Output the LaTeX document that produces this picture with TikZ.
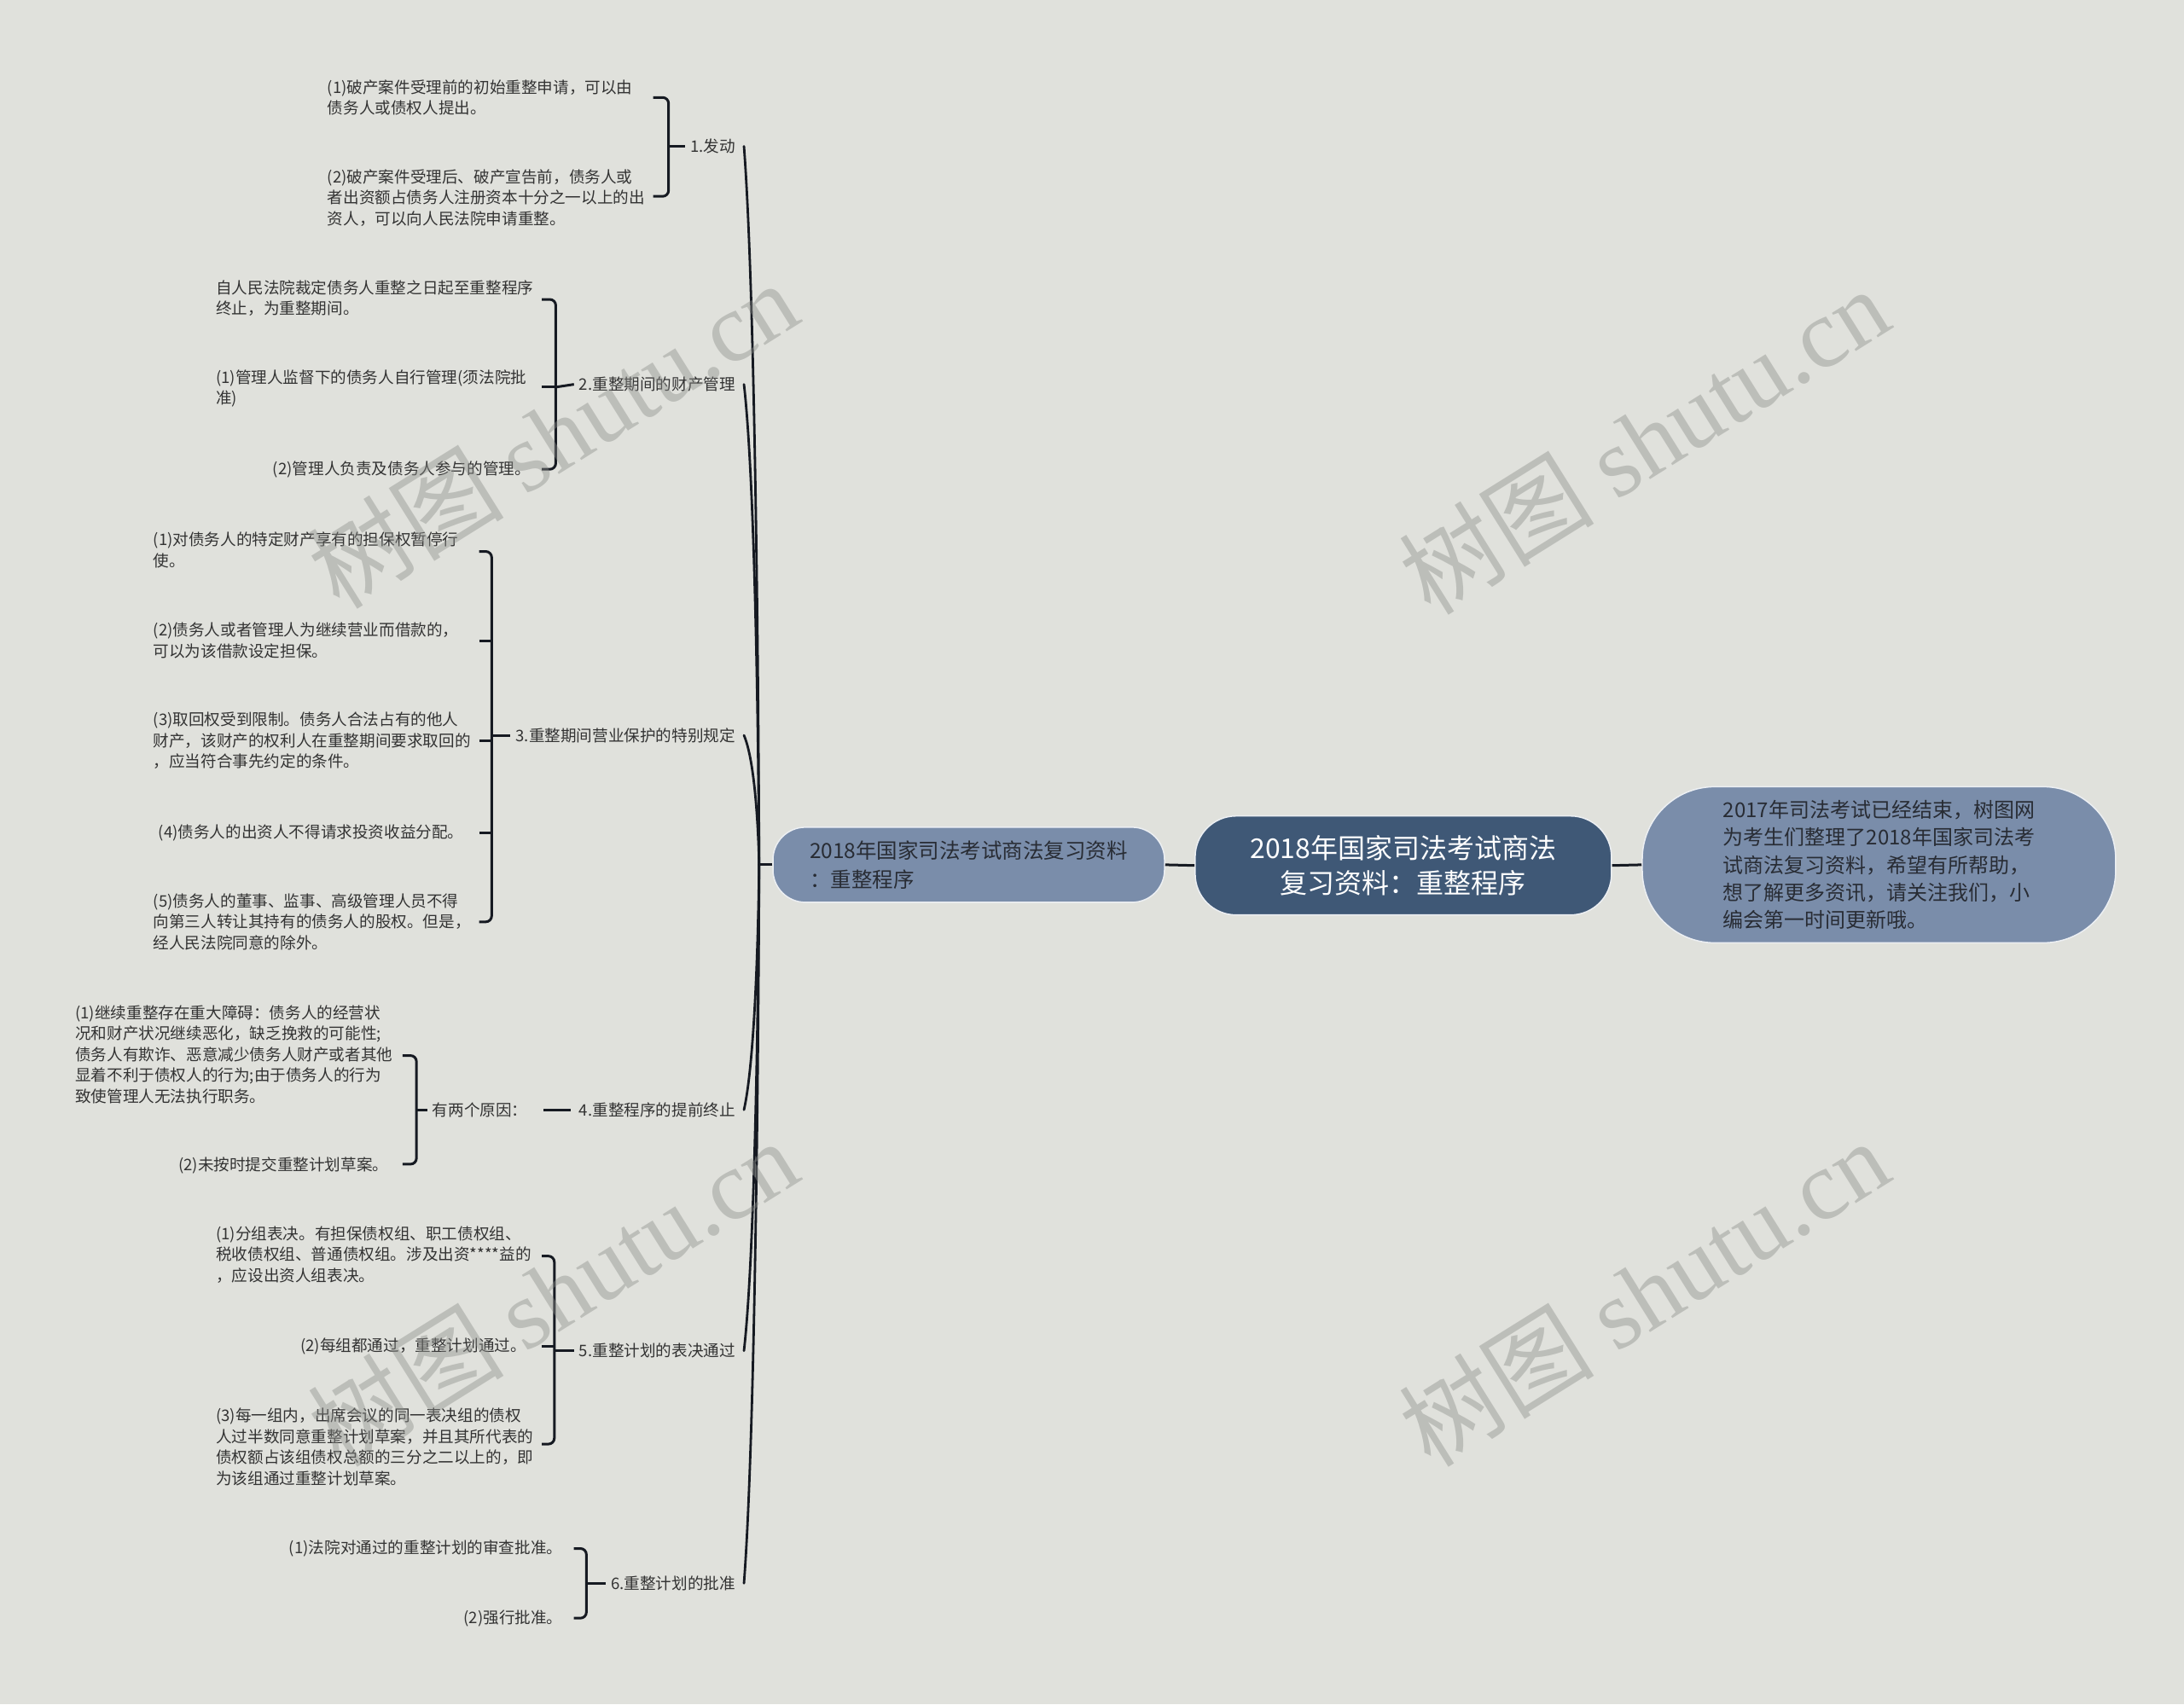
\documentclass[tikz,border=0pt]{standalone}
\usepackage{fontspec}
\setmainfont{Noto Sans CJK SC}
\newfontfamily\wmlatin{Liberation Serif}
\definecolor{bgc}{RGB}{224,225,220}
\definecolor{darkc}{RGB}{63,88,118}
\definecolor{lightc}{RGB}{122,141,170}
\definecolor{edgec}{RGB}{236,239,243}
\definecolor{lnc}{RGB}{22,26,34}
\definecolor{txtc}{RGB}{51,51,51}
\definecolor{ntxt}{RGB}{40,44,52}
\definecolor{wmc}{RGB}{140,142,138}
\begin{document}
\begin{tikzpicture}[x=1.6327pt,y=-1.6327pt,
  leaf/.style={font=\fontsize{18.6}{24.5}\selectfont, text=txtc, inner sep=0pt, align=left},
  lvl/.style={font=\fontsize{18.6}{24.5}\selectfont, text=txtc, inner sep=0pt},
  brk/.style={draw=lnc, line width=3pt, rounded corners=7pt},
  link/.style={draw=lnc, line width=3pt},
  branch/.style={draw=lnc, line width=2.8pt, line cap=round},
  rootbox/.style={fill=darkc, draw=edgec, line width=1.5pt, rounded corners=48pt, text=white,
    font=\fontsize{32}{41}\selectfont, align=center, minimum width=488pt, minimum height=116pt, inner sep=0pt},
  subbox/.style={fill=lightc, draw=edgec, line width=1.5pt, rounded corners=38pt, text=ntxt,
    font=\fontsize{24.5}{34}\selectfont, align=left, minimum width=459pt, minimum height=88pt, inner sep=0pt},
  notebox/.style={fill=lightc, draw=edgec, line width=1.5pt, rounded corners=85pt, text=ntxt,
    font=\fontsize{24}{32.2}\selectfont, align=left, minimum width=555pt, minimum height=183pt, inner sep=0pt},
  wm/.style={text=wmc, opacity=0.42, font=\fontsize{115}{115}\selectfont, inner sep=0pt, rotate=32}
]
\fill[bgc] (0,0) rectangle (1568,1224);
\useasboundingbox (0,0) rectangle (1568,1224);

% central nodes
\node[rootbox] (root) at (1007.5,621.5) {2018年国家司法考试商法\\复习资料：重整程序};
\node[subbox] (sub) at (695.5,621) {2018年国家司法考试商法复习资料\\：重整程序};
\node[notebox] (note) at (1349,621) {2017年司法考试已经结束，树图网\\为考生们整理了2018年国家司法考\\试商法复习资料，希望有所帮助，\\想了解更多资讯，请关注我们，小\\编会第一时间更新哦。};
\draw[link] (root.west) -- (sub.east);
\draw[link] (root.east) -- (note.west);
\coordinate (tr) at (545,621);
\draw[link] (sub.west) -- (tr);

% first level labels
\node[lvl, anchor=east] (g1) at (528,105) {1.发动};
\node[lvl, anchor=east] (g2) at (528,276) {2.重整期间的财产管理};
\node[lvl, anchor=east] (g3) at (528,528) {3.重整期间营业保护的特别规定};
\node[lvl, anchor=east] (g4) at (528,797) {4.重整程序的提前终止};
\node[lvl, anchor=east] (g5) at (528,970) {5.重整计划的表决通过};
\node[lvl, anchor=east] (g6) at (528,1137) {6.重整计划的批准};

\draw[branch] (tr) .. controls (tr) and (544,234) .. ([xshift=10pt]g1.east);
\draw[branch] (tr) .. controls (tr) and (544,362) .. ([xshift=10pt]g2.east);
\draw[branch] (tr) .. controls (tr) and (544,551) .. ([xshift=10pt]g3.east);
\draw[branch] (tr) .. controls (tr) and (544,753) .. ([xshift=10pt]g4.east);
\draw[branch] (tr) .. controls (tr) and (544,883) .. ([xshift=10pt]g5.east);
\draw[branch] (tr) .. controls (tr) and (544,1008) .. ([xshift=10pt]g6.east);

% group 1
\node[leaf, anchor=west] (c11) at (235,70) {(1)破产案件受理前的初始重整申请，可以由\\债务人或债权人提出。};
\node[leaf, anchor=west] (c12) at (235,142) {(2)破产案件受理后、破产宣告前，债务人或\\者出资额占债务人注册资本十分之一以上的出\\资人，可以向人民法院申请重整。};
\draw[brk] (469,70) -| (480,141) -- (469,141);
\draw[link] (480,105) -- ([xshift=-6pt]g1.west);

% group 2
\node[leaf, anchor=west] (c21) at (155,214) {自人民法院裁定债务人重整之日起至重整程序\\终止，为重整期间。};
\node[leaf, anchor=west] (c22) at (155,279) {(1)管理人监督下的债务人自行管理(须法院批\\准)};
\node[leaf, anchor=east] (c23) at (381,337) {(2)管理人负责及债务人参与的管理。};
\draw[brk] (389,215) -| (399,337) -- (389,337);
\draw[link] (389,278) -- (399,278);
\draw[link] (399,278) -- ([xshift=-6pt]g2.west);

% group 3
\node[leaf, anchor=west] (c31) at (110,395) {(1)对债务人的特定财产享有的担保权暂停行\\使。};
\node[leaf, anchor=west] (c32) at (110,460) {(2)债务人或者管理人为继续营业而借款的，\\可以为该借款设定担保。};
\node[leaf, anchor=west] (c33) at (110,532) {(3)取回权受到限制。债务人合法占有的他人\\财产，该财产的权利人在重整期间要求取回的\\，应当符合事先约定的条件。};
\node[leaf, anchor=east] (c34) at (333,598) {(4)债务人的出资人不得请求投资收益分配。};
\node[leaf, anchor=west] (c35) at (110,662) {(5)债务人的董事、监事、高级管理人员不得\\向第三人转让其持有的债务人的股权。但是，\\经人民法院同意的除外。};
\draw[brk] (344,396) -| (353,662) -- (344,662);
\draw[link] (344,460) -- (353,460);
\draw[link] (344,532) -- (353,532);
\draw[link] (344,598) -- (353,598);
\draw[link] (353,528) -- ([xshift=-6pt]g3.west);

% group 4
\node[lvl, anchor=east] (r4) at (379,797) {有两个原因：};
\draw[link] ([xshift=-10pt]g4.west) -- ([xshift=18pt]r4.east);
\node[leaf, anchor=west] (c41) at (54,757) {(1)继续重整存在重大障碍：债务人的经营状\\况和财产状况继续恶化，缺乏挽救的可能性;\\债务人有欺诈、恶意减少债务人财产或者其他\\显着不利于债权人的行为;由于债务人的行为\\致使管理人无法执行职务。};
\node[leaf, anchor=east] (c42) at (279,837) {(2)未按时提交重整计划草案。};
\draw[brk] (289,758) -| (299,836) -- (289,836);
\draw[link] (299,797) -- ([xshift=-6pt]r4.west);

% group 5
\node[leaf, anchor=west] (c51) at (155,901) {(1)分组表决。有担保债权组、职工债权组、\\税收债权组、普通债权组。涉及出资****益的\\，应设出资人组表决。};
\node[leaf, anchor=east] (c52) at (378,967) {(2)每组都通过，重整计划通过。};
\node[leaf, anchor=west] (c53) at (155,1039) {(3)每一组内，出席会议的同一表决组的债权\\人过半数同意重整计划草案，并且其所代表的\\债权额占该组债权总额的三分之二以上的，即\\为该组通过重整计划草案。};
\draw[brk] (389,902) -| (398,1037) -- (389,1037);
\draw[link] (389,967) -- (398,967);
\draw[link] (398,970) -- ([xshift=-6pt]g5.west);

% group 6
\node[leaf, anchor=east] (c61) at (404,1112) {(1)法院对通过的重整计划的审查批准。};
\node[leaf, anchor=east] (c62) at (404,1162) {(2)强行批准。};
\draw[brk] (412,1112) -| (421,1162) -- (412,1162);
\draw[link] (421,1137) -- ([xshift=-6pt]g6.west);

% watermarks
\node[wm] (w1) at (397,312) {树图 {\wmlatin shutu.cn}};
\node[wm] (w2) at (1180,316) {树图 {\wmlatin shutu.cn}};
\node[wm] (w3) at (397,928) {树图 {\wmlatin shutu.cn}};
\node[wm] (w4) at (1180,928) {树图 {\wmlatin shutu.cn}};
\end{tikzpicture}
\end{document}
